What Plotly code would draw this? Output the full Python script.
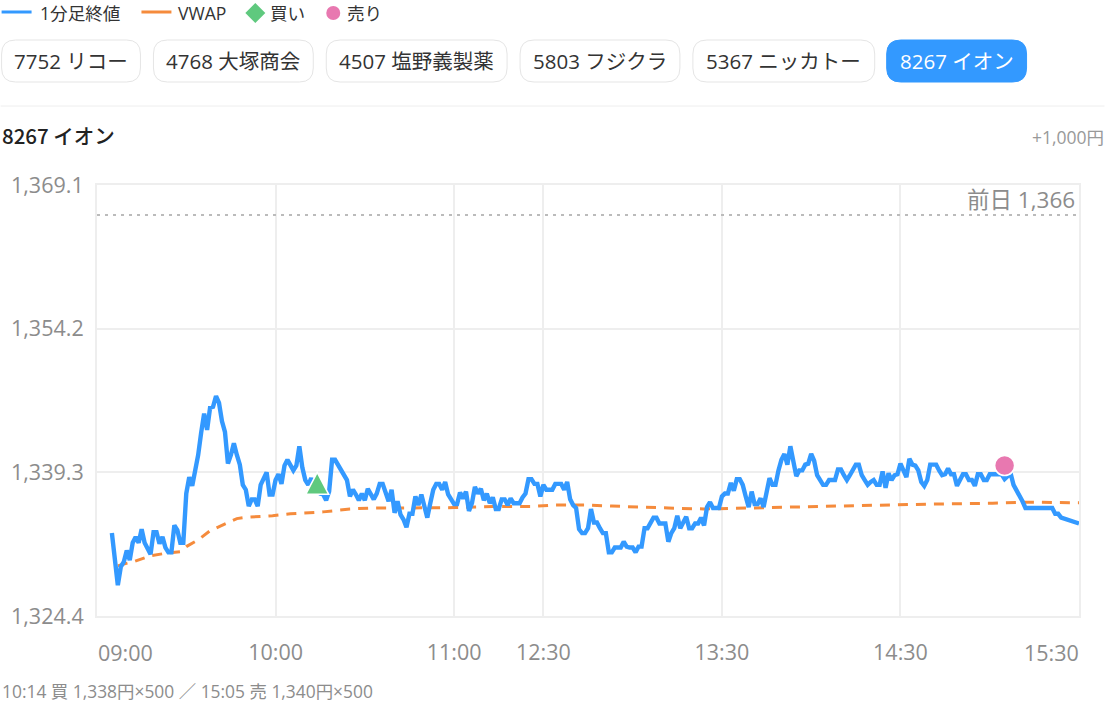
import plotly.graph_objects as go

# minutes counted on a compressed session axis (lunch break removed)
tick_minutes = [60, 120, 150, 210, 270]
tick_labels = ["10:00", "11:00", "12:30", "13:30", "14:30"]
y_ticks = [1324.4, 1339.3, 1354.2, 1369.1]
y_labels = ["1,324.4", "1,339.3", "1,354.2", "1,369.1"]

# 1 minute close, 09:05 to 15:30
close = [
    1333.0, 1330.2, 1327.6, 1329.5, 1330.0, 1331.2, 1330.2, 1332.0, 1332.6, 1332.0,
    1333.4, 1332.0, 1331.4, 1330.8, 1333.1, 1333.1, 1331.9, 1332.6, 1331.5, 1331.0,
    1331.0, 1333.8, 1333.3, 1332.0, 1332.0, 1337.1, 1338.8, 1337.9, 1339.5, 1341.1,
    1343.4, 1345.4, 1343.7, 1346.0, 1346.1, 1347.2, 1346.5, 1344.6, 1343.5, 1340.2,
    1341.1, 1342.3, 1341.1, 1340.1, 1338.0, 1337.5, 1335.8, 1336.5, 1336.5, 1335.8,
    1338.0, 1338.7, 1339.3, 1337.0, 1337.0, 1338.5, 1339.1, 1338.1, 1340.0, 1340.6,
    1340.0, 1339.5, 1340.0, 1342.0, 1339.8, 1338.5, 1338.0, 1338.7, 1337.8, 1337.5,
    1337.1, 1337.0, 1336.4, 1337.3, 1340.6, 1340.6, 1340.1, 1339.5, 1338.9, 1338.5,
    1336.8, 1337.5, 1337.0, 1336.4, 1337.1, 1336.4, 1337.6, 1337.1, 1336.5, 1337.1,
    1338.1, 1338.1, 1337.0, 1336.3, 1337.5, 1335.1, 1336.3, 1334.9, 1334.4, 1333.6,
    1335.0, 1335.0, 1336.8, 1335.9, 1337.0, 1335.6, 1334.6, 1336.1, 1337.5, 1338.1,
    1338.1, 1337.5, 1338.3, 1337.0, 1336.4, 1336.0, 1336.0, 1337.2, 1336.6, 1337.3,
    1335.3, 1336.1, 1337.8, 1337.1, 1337.6, 1336.4, 1337.1, 1336.1, 1336.7, 1335.5,
    1335.5, 1336.5, 1336.5, 1335.9, 1336.6, 1336.1, 1336.1, 1336.1, 1336.7, 1337.1,
    1338.6, 1338.6, 1338.1, 1338.1, 1336.8, 1338.0, 1337.5, 1337.5, 1337.5, 1338.1,
    1338.1, 1338.1, 1337.5, 1338.3, 1336.5, 1335.9, 1335.6, 1333.4, 1333.0, 1333.0,
    1333.5, 1335.5, 1334.1, 1334.1, 1333.5, 1333.0, 1333.0, 1331.0, 1331.0, 1331.5,
    1331.5, 1331.5, 1332.1, 1331.6, 1331.5, 1331.5, 1331.0, 1331.6, 1331.6, 1333.5,
    1333.5, 1334.1, 1334.6, 1334.6, 1334.0, 1334.0, 1334.0, 1332.1, 1333.0, 1333.5,
    1334.8, 1333.5, 1334.1, 1334.7, 1333.5, 1333.5, 1334.0, 1334.0, 1334.6, 1333.8,
    1335.7, 1336.2, 1335.6, 1335.6, 1335.6, 1336.8, 1337.1, 1337.1, 1338.2, 1337.4,
    1338.6, 1338.6, 1338.0, 1336.8, 1335.7, 1337.3, 1336.0, 1336.0, 1336.6, 1335.7,
    1337.5, 1338.7, 1338.0, 1338.0, 1339.5, 1340.6, 1341.2, 1340.1, 1342.0, 1340.1,
    1338.9, 1339.5, 1339.5, 1340.1, 1340.2, 1341.2, 1340.5, 1339.0, 1338.5, 1338.0,
    1338.0, 1338.5, 1338.5, 1338.5, 1339.6, 1339.6, 1339.0, 1338.5, 1339.0, 1339.6,
    1340.1, 1340.1, 1339.0, 1338.5, 1338.0, 1338.3, 1338.5, 1338.0, 1338.0, 1339.4,
    1337.7, 1339.2, 1338.5, 1339.0, 1339.1, 1340.2, 1339.5, 1338.8, 1340.7, 1340.1,
    1340.0, 1339.5, 1338.3, 1337.9, 1338.5, 1340.1, 1340.1, 1340.1, 1339.5, 1339.0,
    1339.1, 1339.7, 1339.1, 1339.1, 1337.9, 1338.5, 1339.1, 1339.1, 1338.5, 1338.5,
    1337.9, 1339.1, 1339.1, 1338.5, 1338.5, 1339.1, 1339.1, 1339.1, 1339.1, 1339.1,
    1338.6, 1338.9, 1339.2, 1338.0, 1337.5, 1336.9, 1336.3, 1335.6, 1335.6, 1335.6,
    1335.6, 1335.6, 1335.6, 1335.6, 1335.6, 1335.6, 1335.6, 1335.0, 1335.0, 1334.6,
    1334.5, 1334.4, 1334.3, 1334.2, 1334.1, 1334.0,
]
close_minutes = list(range(5, 331))

vwap_minutes = [7, 9, 12, 18, 23, 28, 30, 34, 38, 41, 44, 47, 50, 59, 65, 76, 85, 92, 101, 120,
                133, 146, 153, 166, 173, 181, 192, 204, 218, 230, 246, 257, 279, 301, 312, 330]
vwap = [1329.6, 1329.8, 1330.0, 1330.65, 1330.9, 1331.07, 1331.6, 1332.3, 1333.25, 1333.65,
        1334.1, 1334.5, 1334.63, 1334.8, 1335.0, 1335.2, 1335.5, 1335.6, 1335.6, 1335.64,
        1335.75, 1335.75, 1335.9, 1335.9, 1335.8, 1335.7, 1335.6, 1335.5, 1335.6, 1335.67,
        1335.8, 1335.9, 1336.0, 1336.1, 1336.2, 1336.15]

prev_close = 1366
buy_minute, buy_price = 74, 1338
sell_minute, sell_price = 305, 1340

buttons = ["7752 リコー", "4768 大塚商会", "4507 塩野義製薬", "5803 フジクラ", "5367 ニッカトー", "8267 イオン"]
button_left = [1, 153, 326, 520, 693, 887]
button_right = [140, 313, 507, 680, 875, 1027]

FONT = "Open Sans, Noto Sans CJK JP"
BLUE = "#3399ff"
ORANGE = "#f58b3c"
GREEN = "#5fc97e"
PINK = "#e878b0"
GRID = "#eeeeee"
GREY = "#8c8c8c"

# plot box in page pixels
L, R, T, B = 96.5, 1079.5, 185, 616


def px(x):
    return (x - L) / (R - L)


def py(y):
    return (B - y) / (B - T)


def rounded(x0, x1, y0, y1, r):
    a, b, c, d = px(x0), px(x1), py(y0), py(y1)
    rx, ry = r / (R - L), r / (B - T)
    return (f"M {a + rx} {c} L {b - rx} {c} Q {b} {c} {b} {c - ry} L {b} {d + ry} "
            f"Q {b} {d} {b - rx} {d} L {a + rx} {d} Q {a} {d} {a} {d + ry} L {a} {c - ry} Q {a} {c} {a + rx} {c} Z")


def label(x, y, text, size, color, anchor="left"):
    # annotations carry about 2px of padding on the anchored side
    nudge = {"left": -2, "right": 2, "center": 0}[anchor]
    return dict(xref="paper", yref="paper", x=px(x + nudge), y=py(y), text=text, showarrow=False,
                xanchor=anchor, yanchor="middle", align=anchor,
                font=dict(family=FONT, size=size, color=color))


fig = go.Figure()
fig.add_trace(go.Scatter(x=[0, 330], y=[prev_close, prev_close], mode="lines",
                         line=dict(color="#bbbbbb", width=2, dash="3px 5px"), hoverinfo="skip"))
fig.add_trace(go.Scatter(x=vwap_minutes, y=vwap, mode="lines", name="VWAP",
                         line=dict(color=ORANGE, width=3, dash="10px 8px")))
fig.add_trace(go.Scatter(x=close_minutes, y=close, mode="lines", name="1分足終値",
                         line=dict(color=BLUE, width=4.4)))
fig.add_trace(go.Scatter(x=[sell_minute], y=[sell_price], mode="markers", name="売り",
                         marker=dict(symbol="circle", size=20, color=PINK, line=dict(color="white", width=1.5))))

shapes = []
annotations = []

# buy marker: taller than plotly's equilateral triangle, so a shape pinned to the data point
shapes.append(dict(type="path", xref="x", yref="y", xsizemode="pixel", ysizemode="pixel",
                   xanchor=buy_minute, yanchor=buy_price, path="M -11.5 -9.5 L 11.5 -9.5 L 0 12.5 Z",
                   fillcolor=GREEN, line=dict(color="white", width=1.5), layer="above"))

# legend row
shapes.append(dict(type="line", xref="paper", yref="paper", x0=px(1), x1=px(31), y0=py(12), y1=py(12),
                   line=dict(color=BLUE, width=3)))
shapes.append(dict(type="line", xref="paper", yref="paper", x0=px(141), x1=px(171), y0=py(12), y1=py(12),
                   line=dict(color=ORANGE, width=3)))
shapes.append(dict(type="path", xref="paper", yref="paper", line=dict(width=0), fillcolor=GREEN,
                   path=f"M {px(255)} {py(3)} L {px(265)} {py(13)} L {px(255)} {py(23)} L {px(245)} {py(13)} Z"))
shapes.append(dict(type="circle", xref="paper", yref="paper", line=dict(width=0), fillcolor=PINK,
                   x0=px(326), x1=px(340), y0=py(20), y1=py(6)))
annotations += [label(39, 13, "1分足終値", 17.6, "#333333"), label(178, 13, "VWAP", 17.6, "#333333"),
                label(270, 13, "買い", 17.6, "#333333"), label(347, 13, "売り", 17.6, "#333333")]

# stock buttons
for text, left, right in zip(buttons, button_left, button_right):
    active = text == buttons[-1]
    shapes.append(dict(type="path", xref="paper", yref="paper", path=rounded(left, right, 40, 82, 14),
                       fillcolor=BLUE if active else "white",
                       line=dict(color=BLUE if active else "#e5e5e5", width=1)))
    annotations.append(label((left + right) / 2, 61, text, 20.5, "white" if active else "#333333", "center"))

shapes.append(dict(type="line", xref="paper", yref="paper", x0=px(0), x1=px(1105), y0=py(106), y1=py(106),
                   line=dict(color=GRID, width=1)))

title = label(1, 135, "8267 イオン", 20.5, "#222222")
title["font"].update(family="Noto Sans CJK JP", weight=500)
annotations += [
    title,
    label(1105, 137, "+1,000円", 17.5, "#999999", "right"),
    label(1075.5, 199, "前日 1,366", 22.5, GREY, "right"),
    label(1, 691, "10:14 買 1,338円×500 ／ 15:05 売 1,340円×500", 17.4, GREY),
    # end labels sit inside the plot width
    label(97, 652, "09:00", 21.5, GREY),
    label(1080, 652, "15:30", 21.5, GREY, "right"),
]

fig.update_layout(
    width=1105, height=705, showlegend=False,
    margin=dict(l=L, r=1105 - R, t=T, b=705 - B, pad=0),
    paper_bgcolor="white", plot_bgcolor="white",
    font=dict(family=FONT, size=20, color=GREY),
    shapes=shapes, annotations=annotations,
)
fig.update_xaxes(range=[0, 330], tickmode="array", tickvals=[0] + tick_minutes + [330],
                 ticktext=[""] + tick_labels + [""], showgrid=True, gridcolor=GRID, gridwidth=2,
                 zeroline=False, ticks="outside", tickcolor="rgba(0,0,0,0)", ticklen=16,
                 mirror=True, showline=True, linecolor=GRID, linewidth=2,
                 tickfont=dict(family=FONT, size=21.5, color=GREY))
fig.update_yaxes(range=[y_ticks[0], y_ticks[-1]], tickmode="array", tickvals=y_ticks, ticktext=y_labels,
                 showgrid=True, gridcolor=GRID, gridwidth=2, zeroline=False, ticks="outside",
                 tickcolor="rgba(0,0,0,0)", ticklen=7, mirror=True, showline=True, linecolor=GRID, linewidth=2,
                 tickfont=dict(family=FONT, size=21.5, color=GREY))

fig.write_html("out.html", config={"displayModeBar": False}, post_script="document.body.style.margin='0';")
